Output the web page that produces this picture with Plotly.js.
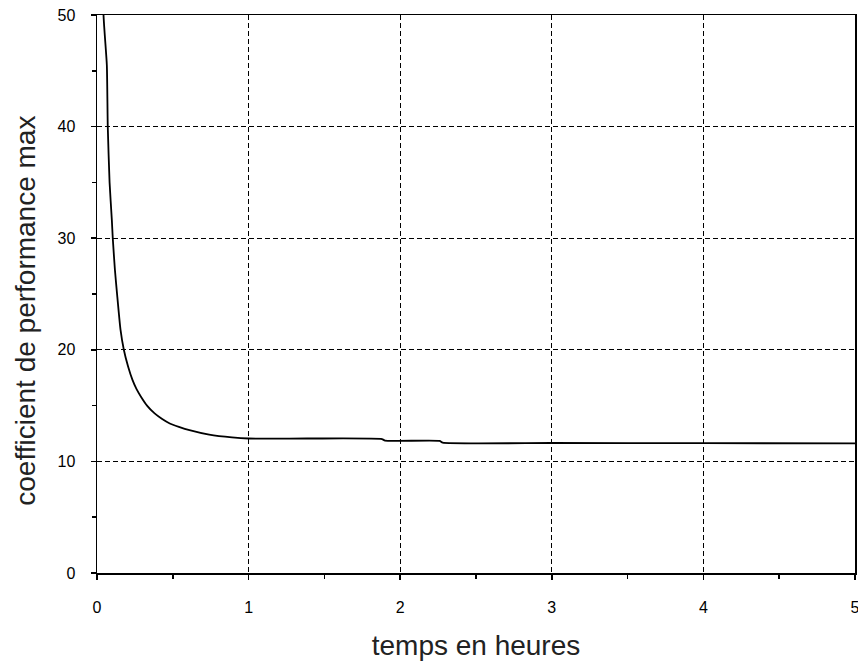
<!DOCTYPE html>
<html>
<head>
<meta charset="utf-8">
<script src="https://cdn.plot.ly/plotly-3.0.1.min.js"></script>
<style>html,body{margin:0;padding:0;background:#fff;}#chart{width:858px;height:661px;}</style>
</head>
<body>
<div id="chart"></div>
<script>
// time in hours
const timeHours = [0.030, 0.043, 0.065, 0.071, 0.083, 0.098, 0.104, 0.118, 0.133, 0.155, 0.177, 0.205, 0.234, 0.26, 0.29, 0.33, 0.38, 0.43, 0.48, 0.54, 0.61, 0.74, 0.89, 1.0, 1.4, 1.88, 1.9, 2.26, 2.28, 3.0, 4.0, 5.0];
// max coefficient of performance
const copMax = [70, 50, 45.5, 40, 35, 31.6, 30, 27.2, 24.9, 21.8, 20, 18.5, 17.3, 16.5, 15.8, 15.0, 14.3, 13.8, 13.4, 13.1, 12.8, 12.4, 12.15, 12.05, 12.05, 12.0, 11.86, 11.84, 11.68, 11.65, 11.63, 11.62];
const xTickVals = [0, 1, 2, 3, 4, 5];
const yTickVals = [0, 10, 20, 30, 40, 50];
const xTitle = 'temps en heures';
const yTitle = 'coefficient de performance max';

const trace = {
  x: timeHours, y: copMax, type: 'scatter', mode: 'lines',
  line: {color: '#000', width: 1.8, shape: 'spline', smoothing: 0.5}, hoverinfo: 'skip'
};

const titleFont = {family: 'Liberation Sans, Arial, sans-serif', size: 28, color: '#222'};

const axisCommon = {
  showline: true, linecolor: '#000', linewidth: 1.5, mirror: true,
  ticks: 'outside', ticklen: 5, tickwidth: 1.5, tickcolor: '#000',
  showgrid: true, gridcolor: '#000', gridwidth: 1, griddash: '5px,3px',
  zeroline: false, ticklabeloverflow: 'allow',
  tickfont: {family: 'Liberation Sans, Arial, sans-serif', size: 16, color: '#000'},
  minor: {ticks: 'outside', ticklen: 4, tickwidth: 1.5, tickcolor: '#000', showgrid: false}
};

const layout = {
  width: 858, height: 661,
  margin: {l: 97, r: 3, t: 15, b: 88},
  paper_bgcolor: '#fff', plot_bgcolor: '#fff',
  showlegend: false,
  xaxis: Object.assign({}, axisCommon, {
    range: [0, 5], tickvals: xTickVals, ticklabelstandoff: 14,
    minor: Object.assign({}, axisCommon.minor, {dtick: 0.5, tick0: 0}),
    title: {text: xTitle, standoff: 21, font: titleFont}
  }),
  yaxis: Object.assign({}, axisCommon, {
    range: [0, 50], tickvals: yTickVals, ticklabelstandoff: 12,
    minor: Object.assign({}, axisCommon.minor, {dtick: 5, tick0: 0})
  }),
  annotations: [{
    text: yTitle, textangle: -90, showarrow: false,
    xref: 'paper', yref: 'paper', x: -0.0954, y: 0.4695,
    xanchor: 'center', yanchor: 'middle', font: titleFont
  }]
};

Plotly.newPlot('chart', [trace], layout, {staticPlot: true});
</script>
</body>
</html>
